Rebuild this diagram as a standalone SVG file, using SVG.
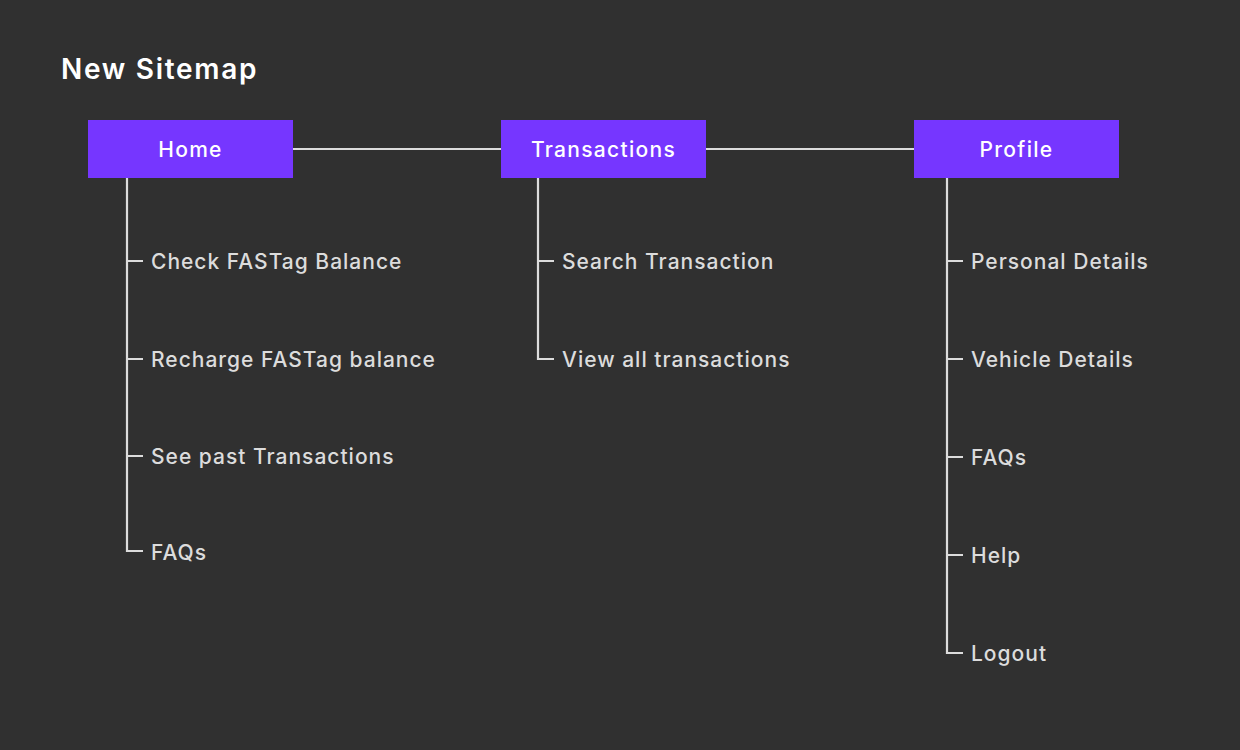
<svg xmlns="http://www.w3.org/2000/svg" width="1240" height="750" viewBox="0 0 1240 750">
<style>
.bg{fill:#303030}
.box{fill:#7636ff}
.lbl{font-family:Inter,"Noto Sans",sans-serif;font-size:21px;font-weight:500;fill:#ffffff;text-anchor:middle;letter-spacing:1.3px}
.item{font-family:Inter,"Noto Sans",sans-serif;font-size:21px;font-weight:500;fill:#dcdcdc;letter-spacing:1px}
.title{font-family:Inter,"Noto Sans",sans-serif;font-size:28px;font-weight:600;fill:#ffffff;letter-spacing:1.7px}
.ln{stroke:#dcdcdc;stroke-width:2.2;fill:none}
</style>
<rect class="bg" x="0" y="0" width="1240" height="750"/>
<text class="title" x="61" y="79">New Sitemap</text>
<g id="connectors">
<line class="ln" x1="293" y1="149" x2="501" y2="149"/>
<line class="ln" x1="706" y1="149" x2="914" y2="149"/>
<path class="ln" d="M127,178 V551 H143 M127,261 H143 M127,359 H143 M127,456 H143"/>
<path class="ln" d="M538,178 V359 H554 M538,261 H554"/>
<path class="ln" d="M947,178 V653 H963 M947,261 H963 M947,359 H963 M947,457 H963 M947,555 H963"/>
</g>
<g id="home">
<rect class="box" x="88" y="120" width="205" height="58"/>
<text class="lbl" x="190.5" y="157">Home</text>
</g>
<g id="transactions">
<rect class="box" x="501" y="120" width="205" height="58"/>
<text class="lbl" x="603.5" y="157">Transactions</text>
</g>
<g id="profile">
<rect class="box" x="914" y="120" width="205" height="58"/>
<text class="lbl" x="1016.5" y="157">Profile</text>
</g>
<g id="home-items">
<text class="item" x="151" y="269">Check FASTag Balance</text>
<text class="item" x="151" y="367">Recharge FASTag balance</text>
<text class="item" x="151" y="464">See past Transactions</text>
<text class="item" x="151" y="560">FAQs</text>
</g>
<g id="transactions-items">
<text class="item" x="562" y="269">Search Transaction</text>
<text class="item" x="562" y="367">View all transactions</text>
</g>
<g id="profile-items">
<text class="item" x="971" y="269">Personal Details</text>
<text class="item" x="971" y="367">Vehicle Details</text>
<text class="item" x="971" y="465">FAQs</text>
<text class="item" x="971" y="563">Help</text>
<text class="item" x="971" y="661">Logout</text>
</g>
</svg>
